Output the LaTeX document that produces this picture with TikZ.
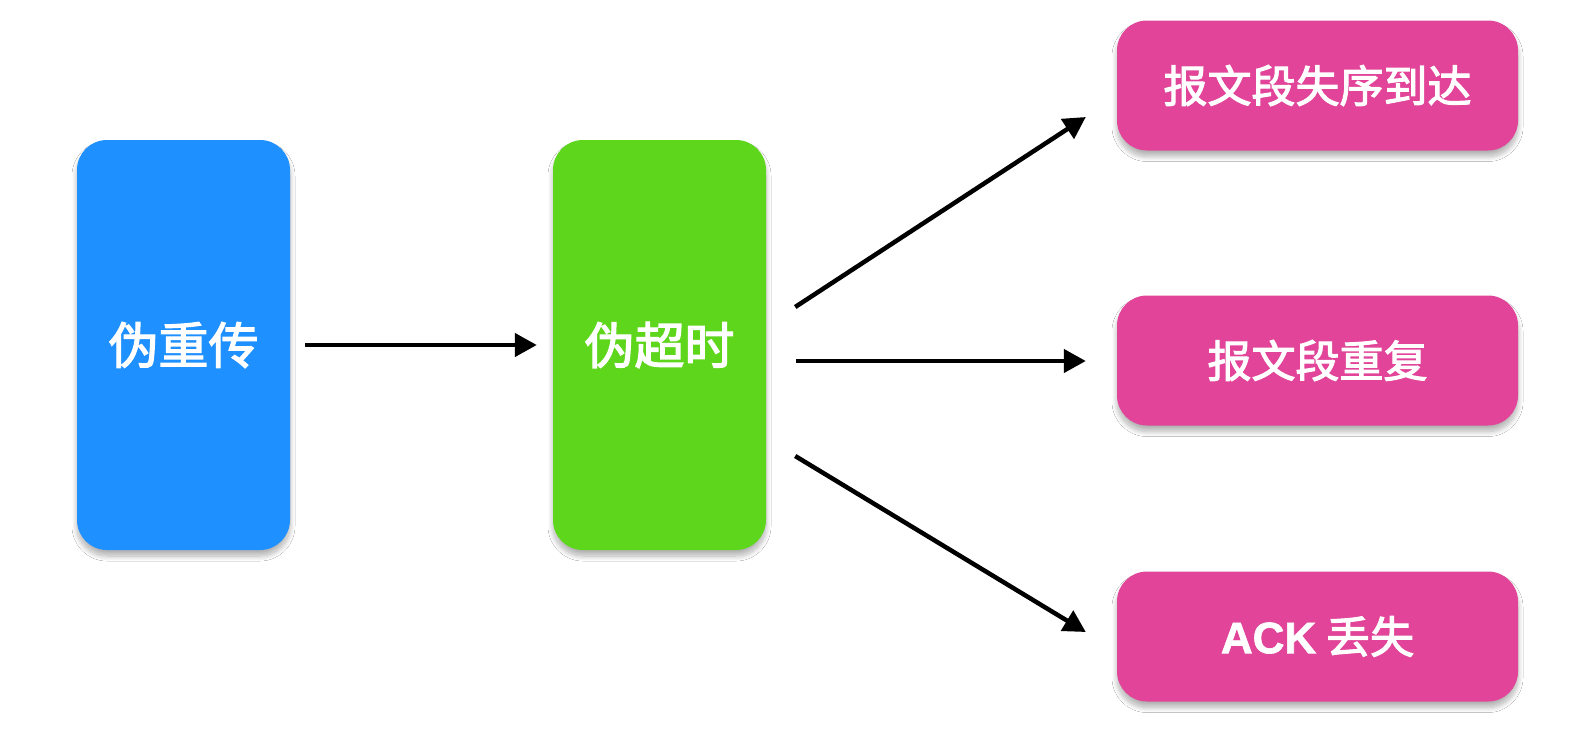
\documentclass[tikz,border=0pt]{standalone}
\usepackage{fontspec}
\setmainfont{Noto Sans CJK SC}[FakeBold=2.5]
\newfontfamily\latinfont{Liberation Sans}[FakeBold=1.5]
\usetikzlibrary{shadows.blur,arrows.meta,calc}
\definecolor{cblue}{RGB}{30,144,255}
\definecolor{cgreen}{RGB}{94,214,27}
\definecolor{cpink}{RGB}{225,68,152}
\begin{document}
\begin{tikzpicture}[x=1pt,y=-1pt,
  box/.style={rounded corners=30pt, text=white, inner sep=0pt,
    blur shadow={shadow xshift=0pt, shadow yshift=-6pt, shadow blur radius=5pt, shadow opacity=30, shadow blur steps=10}},
  tallbox/.style={box, minimum width=213pt, minimum height=410pt, font=\fontsize{50}{50}\selectfont},
  widebox/.style={box, fill=cpink, minimum width=401pt, minimum height=130pt, font=\fontsize{44}{44}\selectfont},
  arr/.style={line width=4.5pt, -{Triangle[length=22pt,width=23pt]}}]
\fill[white] (0,0) rectangle (1570,732);
\useasboundingbox (0,0) rectangle (1570,732);
\node[tallbox, fill=cblue] (a) at (183.5,345) {伪重传};
\node[tallbox, fill=cgreen] (b) at (659.5,345) {伪超时};
\node[widebox] (c) at (1317.5,85.5) {报文段失序到达};
\node[widebox] (d) at (1317.5,360.5) {报文段重复};
\node[widebox] (e) at (1317.5,636.5) {{\latinfont\bfseries ACK} 丢失};
\coordinate (b1) at ($(b.east)+(29,-38)$);
\coordinate (c1) at ($(c.west)+(-31,31.5)$);
\coordinate (b2) at ($(b.east)+(30,16)$);
\coordinate (d2) at ($(d.west)+(-31,0.5)$);
\coordinate (b3) at ($(b.east)+(29,111)$);
\coordinate (e3) at ($(e.west)+(-31,-4.5)$);
\draw[arr, shorten <=15pt, shorten >=16pt] (a) -- (b);
\draw[arr] (b1) -- (c1);
\draw[arr] (b2) -- (d2);
\draw[arr] (b3) -- (e3);
\end{tikzpicture}
\end{document}
